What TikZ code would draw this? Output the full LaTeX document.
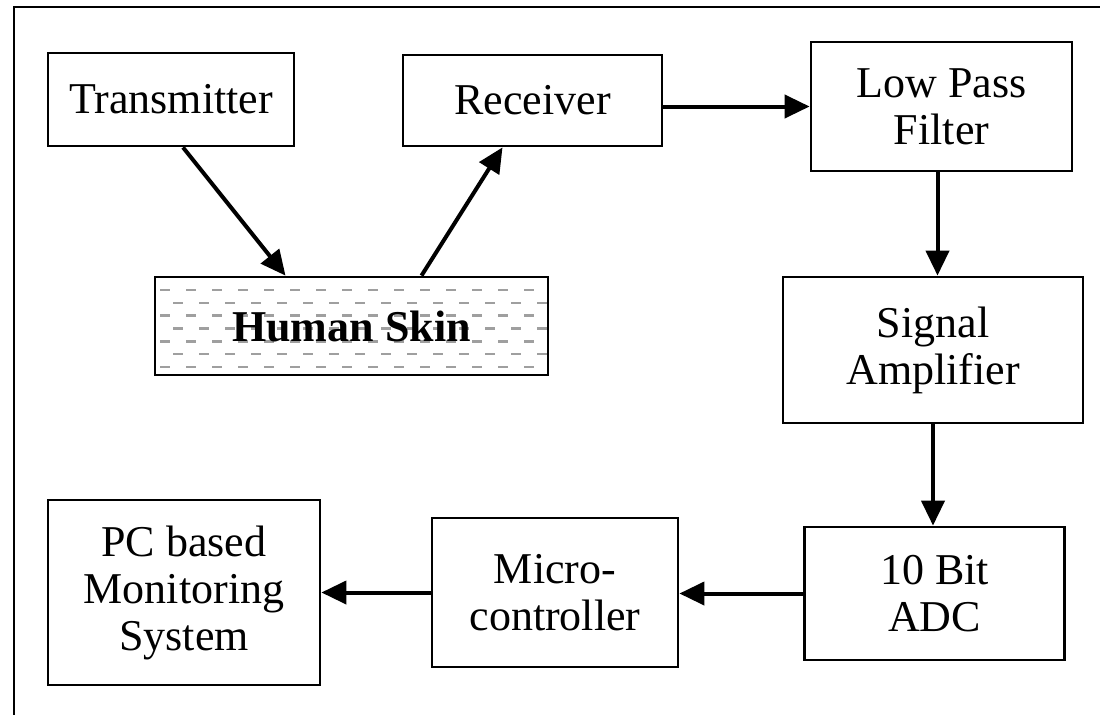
\documentclass[tikz,border=0pt]{standalone}
\usepackage{fontspec}
\setmainfont{Liberation Serif}
\usetikzlibrary{arrows.meta,calc}
\begin{document}
\begin{tikzpicture}[x=1pt,y=-1pt,
  box/.style={draw, line width=2.8pt, inner sep=0pt, align=center, font=\fontsize{44}{47}\selectfont},
  arr/.style={line width=4pt, -{Triangle[length=25pt,width=23pt]}}]
\useasboundingbox (0,0) rectangle (1100,715);
\draw[line width=2pt] (1100,7) -- (14,7) -- (14,715);
\node[box, minimum width=246pt, minimum height=93pt] (tx) at (171,99.5) {Transmitter};
\node[box, minimum width=259pt, minimum height=91pt] (rx) at (532.5,100.5) {Receiver};
\node[box, minimum width=261pt, minimum height=129pt] (lpf) at (941.5,106.5) {Low Pass\\Filter};
\node[box, minimum width=300pt, minimum height=146pt] (amp) at (933,350) {Signal\\Amplifier};
\node[box, minimum width=260pt, minimum height=133pt] (adc) at (934.5,593.5) {10 Bit\\ADC};
\node[box, minimum width=246pt, minimum height=149pt] (mc) at (555,592.5) {Micro-\\controller};
\node[box, minimum width=272pt, minimum height=185pt] (pc) at (184,592.5) {PC based\\Monitoring\\System};
% Human skin with dash pattern
\begin{scope}
\clip (155,277) rectangle (548,375);
\foreach \i in {0,...,7} {
  \pgfmathsetmacro{\yy}{290+\i*12.8}
  \pgfmathsetmacro{\off}{mod(\i,2)==0 ? 0 : 13}
  \draw[gray!75, line width=2.6pt, dash pattern=on 10pt off 16pt, dash phase=-\off pt] (160,\yy) -- (560,\yy);
}
\end{scope}
\node[box, minimum width=393pt, minimum height=98pt, font=\fontsize{44}{47}\selectfont\bfseries] (skin) at (351.5,326) {Human Skin};
\draw[arr] ([xshift=12pt]tx.south) -- ([xshift=-66pt]skin.north);
\draw[arr] ([xshift=70pt]skin.north) -- ([xshift=-30pt]rx.south);
\draw[arr] ([yshift=-6pt]rx.east) -- ([yshift=-6pt]rx.east -| lpf.west);
\draw[arr] ([xshift=-4pt]lpf.south) -- ([xshift=-4pt]lpf.south |- amp.north);
\draw[arr] (amp.south) -- (amp.south |- adc.north);
\draw[arr] (adc.west) -- (adc.west -| mc.east);
\draw[arr] (mc.west) -- (mc.west -| pc.east);
\end{tikzpicture}
\end{document}
